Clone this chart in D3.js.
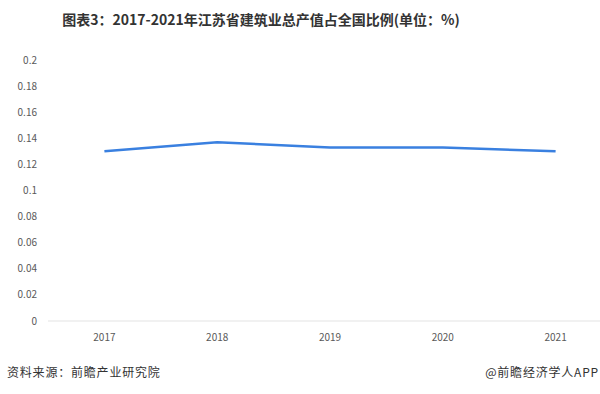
<!DOCTYPE html>
<html>
<head>
<meta charset="utf-8">
<script src="https://cdn.jsdelivr.net/npm/d3@7"></script>
<style>
  body { margin: 0; background: #fff; }
  text { font-family: "Noto Sans CJK SC", "Microsoft YaHei", sans-serif; }
</style>
</head>
<body>
<div class="container"></div>
<script>
// chart data
var years = ["2017", "2018", "2019", "2020", "2021"];
var shares = [0.13, 0.137, 0.133, 0.133, 0.13];
var yTicks = [0, 0.02, 0.04, 0.06, 0.08, 0.1, 0.12, 0.14, 0.16, 0.18, 0.2];

var width = 600, height = 394;

const svg = d3.select(".container").append("svg")
  .attr("width", width)
  .attr("height", height);

// title
svg.append("text")
  .attr("x", 261)
  .attr("y", 25)
  .attr("text-anchor", "middle")
  .style("font-size", "14px")
  .style("font-weight", "bold")
  .attr("fill", "#333")
  .text("图表3：2017-2021年江苏省建筑业总产值占全国比例(单位：%)");

var x = d3.scaleBand().domain(years).range([48, 612]);
var y = d3.scaleLinear().domain([0, 0.2]).range([321, 60]);

// x axis line
svg.append("line")
  .attr("x1", 48).attr("x2", 600)
  .attr("y1", y(0)).attr("y2", y(0))
  .attr("stroke", "#e3e3e3")
  .attr("stroke-width", 1);

// y tick labels
svg.append("g")
  .selectAll("text")
  .data(yTicks)
  .join("text")
  .attr("x", 37)
  .attr("y", d => y(d))
  .attr("dy", "0.35em")
  .attr("text-anchor", "end")
  .style("font-size", "10px")
  .attr("fill", "#595959")
  .text(d => d3.format("~g")(d));

// x tick labels
svg.append("g")
  .selectAll("text")
  .data(years)
  .join("text")
  .attr("x", d => x(d) + x.bandwidth() / 2)
  .attr("y", 341)
  .attr("text-anchor", "middle")
  .style("font-size", "10px")
  .attr("fill", "#595959")
  .text(d => d);

// the line
var line = d3.line()
  .x((d, i) => x(years[i]) + x.bandwidth() / 2)
  .y(d => y(d));

svg.append("path")
  .datum(shares)
  .attr("d", line)
  .attr("fill", "none")
  .attr("stroke", "#3a80e0")
  .attr("stroke-width", 2.5)
  .attr("stroke-linejoin", "round");

// footer
svg.append("text")
  .attr("x", 7)
  .attr("y", 377)
  .style("font-size", "12px")
  .style("letter-spacing", "0.8px")
  .attr("fill", "#333")
  .text("资料来源：前瞻产业研究院");

svg.append("text")
  .attr("x", 599)
  .attr("y", 377)
  .attr("text-anchor", "end")
  .style("font-size", "12px")
  .style("letter-spacing", "0.8px")
  .attr("fill", "#333")
  .text("@前瞻经济学人APP");
</script>
</body>
</html>
